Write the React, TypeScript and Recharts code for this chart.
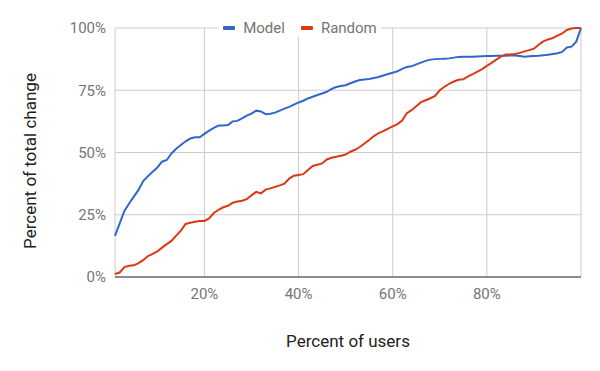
import { LineChart, Line, XAxis, YAxis, CartesianGrid, Legend } from 'recharts';

// percent of users, 1..100
const users = Array.from({ length: 100 }, (_, i) => i + 1);

const model = [
  16.5, 21.5, 26.5, 29.5, 32.3, 35, 38.5, 40.5, 42.3, 44,
  46.3, 47, 49.6, 51.5, 53, 54.5, 55.6, 56.1, 56.1, 57.5,
  58.8, 59.9, 60.8, 60.8, 61, 62.5, 62.7, 63.7, 64.8, 65.6,
  66.8, 66.5, 65.4, 65.6, 66, 66.8, 67.6, 68.3, 69.2, 70.1,
  70.8, 71.7, 72.4, 73.1, 73.7, 74.4, 75.5, 76.3, 76.7, 77,
  77.8, 78.5, 79.1, 79.3, 79.5, 79.9, 80.3, 80.9, 81.5, 82,
  82.6, 83.6, 84.3, 84.6, 85.4, 86.1, 86.8, 87.3, 87.5, 87.6,
  87.7, 87.8, 88.1, 88.4, 88.5, 88.5, 88.5, 88.6, 88.7, 88.8,
  88.8, 88.9, 88.9, 88.9, 89, 89, 88.8, 88.5, 88.7, 88.8,
  88.9, 89.1, 89.3, 89.6, 89.9, 90.4, 92.2, 92.5, 94.5, 100,
];

const random = [
  1.2, 1.8, 4, 4.5, 4.7, 5.6, 6.8, 8.4, 9.3, 10.3,
  11.8, 13.2, 14.5, 16.6, 18.6, 21.3, 21.8, 22.2, 22.5, 22.5,
  23.5, 25.7, 27, 28, 28.6, 29.8, 30.3, 30.6, 31.3, 32.8,
  34.2, 33.6, 35.1, 35.6, 36.2, 36.8, 37.5, 39.5, 40.7, 41,
  41.3, 43, 44.6, 45.1, 45.6, 47.2, 47.9, 48.3, 48.7, 49.2,
  50.3, 51.1, 52.2, 53.6, 55, 56.6, 57.8, 58.6, 59.6, 60.5,
  61.4, 62.8, 65.8, 67, 68.6, 70.2, 71, 71.8, 72.7, 75,
  76.4, 77.6, 78.5, 79.2, 79.4, 80.6, 81.5, 82.5, 83.5, 84.8,
  86, 87.3, 88.5, 89.4, 89.4, 89.6, 90, 90.6, 91.1, 91.7,
  93.3, 94.6, 95.4, 96, 96.9, 97.8, 99.2, 99.8, 100, 100,
];

const xTicks = [20, 40, 60, 80, 100];
const yTicks = [0, 25, 50, 75, 100];

const series = [
  { key: 'model', name: 'Model', color: '#3366cc' },
  { key: 'random', name: 'Random', color: '#dc3912' },
];

const data = users.map((u, i) => ({ user: u, model: model[i], random: random[i] }));

const FONT = 'Roboto, Arial, sans-serif';

function LegendContent() {
  return (
    <div style={{ display: 'flex', justifyContent: 'center', height: 0, overflow: 'visible' }}>
      <div style={{ display: 'flex', gap: 16, background: '#fff', padding: '0 4px', height: 18, alignItems: 'center' }}>
        {series.map((s) => (
          <div key={s.key} style={{ display: 'flex', alignItems: 'center' }}>
            <span style={{ width: 12, height: 4, borderRadius: 1, background: s.color, marginRight: 8 }} />
            <span style={{ fontFamily: FONT, fontSize: 15, color: '#757575', lineHeight: '18px' }}>{s.name}</span>
          </div>
        ))}
      </div>
    </div>
  );
}

export default function App() {
  return (
    <div style={{ position: 'absolute', left: 0, top: 0, width: 600, height: 371, background: '#fff' }}>
      <LineChart width={600} height={371} data={data} margin={{ top: 28, right: 19, left: 0, bottom: 0 }}>
        <CartesianGrid stroke="#cccccc" horizontalPoints={undefined} />
        <XAxis
          dataKey="user"
          type="number"
          domain={[1, 100]}
          ticks={xTicks}
          tickFormatter={(v: number) => (v === 100 ? '' : `${v}%`)}
          height={94}
          axisLine={{ stroke: '#333333', strokeWidth: 1 }}
          tickLine={false}
          tickSize={0}
          tickMargin={11}
          tick={{ fill: '#757575', fontSize: 15, fontFamily: FONT }}
          label={({ viewBox }: any) => (
            <text x={viewBox.x + viewBox.width / 2} y={346.5} textAnchor="middle" fill="#222" fontSize={17} fontFamily={FONT}>
              Percent of users
            </text>
          )}
        />
        <YAxis
          type="number"
          domain={[0, 100]}
          ticks={yTicks}
          width={115}
          axisLine={false}
          tickLine={false}
          tickSize={0}
          tickMargin={9}
          tickFormatter={(v: number) => `${v}%`}
          tick={{ fill: '#757575', fontSize: 15, fontFamily: FONT }}
          label={({ viewBox }: any) => (
            <text x={36} y={161} transform={`rotate(-90 36 161)`} textAnchor="middle" fill="#222" fontSize={17} fontFamily={FONT}>
              Percent of total change
            </text>
          )}
        />
        <Legend verticalAlign="top" content={<LegendContent />} wrapperStyle={{ top: 19, left: 0, width: 600, height: 0 }} />
        {series.map((s) => (
          <Line
            key={s.key}
            dataKey={s.key}
            name={s.name}
            type="linear"
            stroke={s.color}
            strokeWidth={2}
            dot={false}
            isAnimationActive={false}
          />
        ))}
      </LineChart>
    </div>
  );
}
